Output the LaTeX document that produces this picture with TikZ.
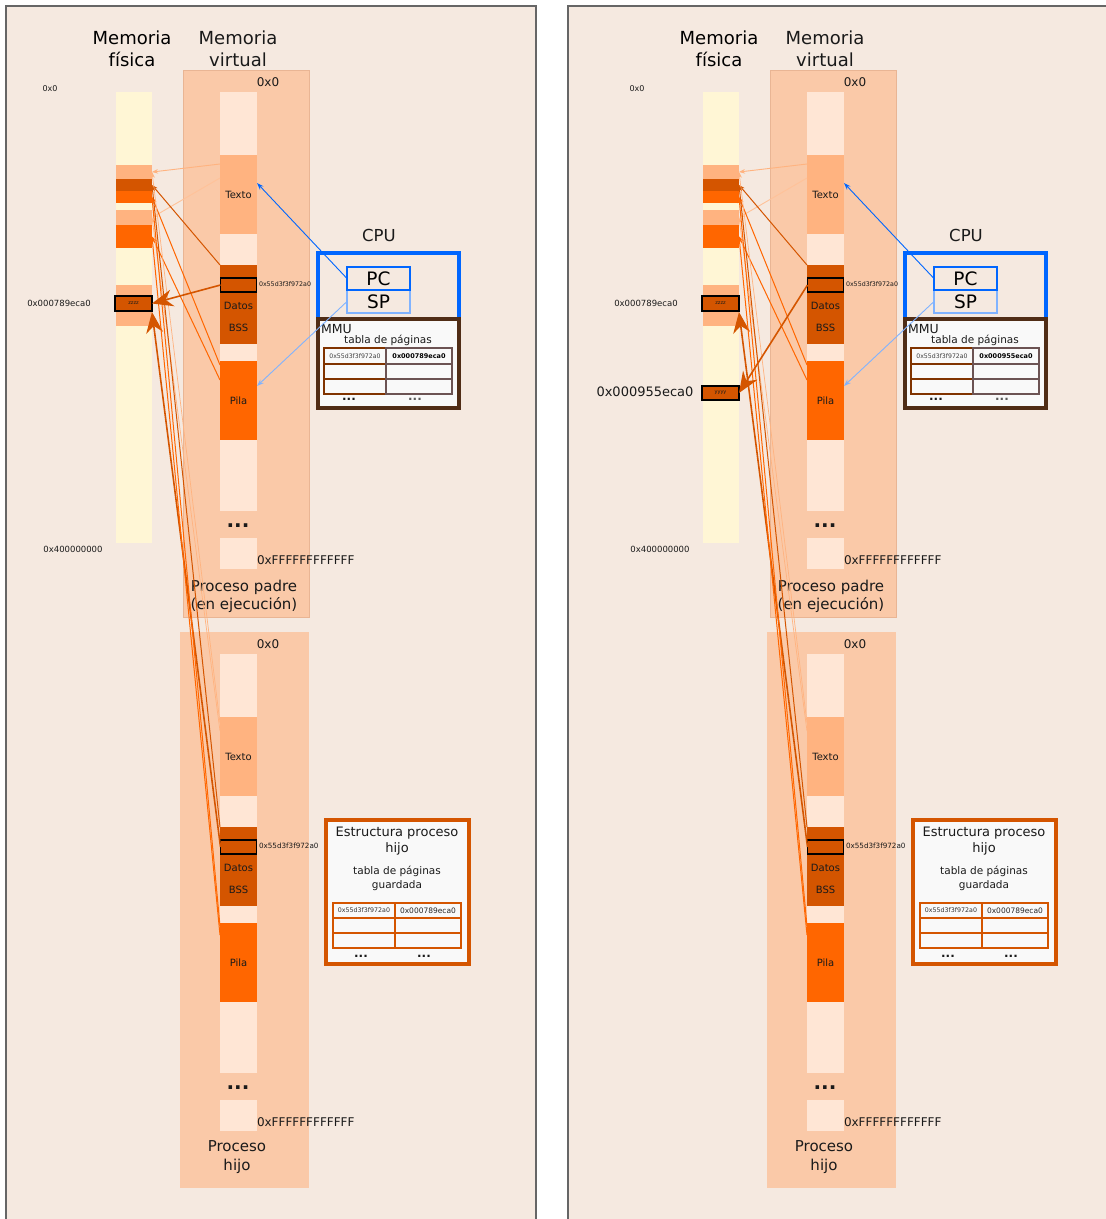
\documentclass[tikz,border=0pt]{standalone}
\usepackage{fontspec}
\setmainfont{DejaVu Sans}
\usetikzlibrary{arrows.meta,calc}
\definecolor{panelbg}{HTML}{F5E9E0}
\definecolor{frameg}{HTML}{666666}
\definecolor{lorange}{HTML}{FFB380}
\definecolor{dorange}{HTML}{D45500}
\definecolor{orangec}{HTML}{FF6600}
\definecolor{vlight}{HTML}{FFE6D5}
\definecolor{physY}{HTML}{FFF6D5}
\definecolor{procbg}{HTML}{FAC9A8}
\definecolor{procedge}{HTML}{E9B594}
\definecolor{cpublue}{HTML}{0066FF}
\definecolor{spblue}{HTML}{80B3FF}
\definecolor{mmubrown}{HTML}{502D16}
\definecolor{cellbrown}{HTML}{803300}
\definecolor{cellgray}{HTML}{6C5353}
\definecolor{boxfill}{HTML}{F9F9F9}
\definecolor{txt}{HTML}{1A1A1A}
\tikzset{
  blk/.style={rectangle, inner sep=0pt, outer sep=0pt, anchor=north west, fill=#1},
  seg/.style={blk=#1, minimum width=37pt, font=\fontsize{10}{12}\selectfont, text=txt},
  lbl/.style={inner sep=0pt, outer sep=0pt, text=txt},
  title/.style={lbl, align=center, font=\fontsize{18}{22}\selectfont},
  addr/.style={lbl, font=\fontsize{8.5}{10}\selectfont},
  membox/.style={blk=dorange, draw=black, line width=1.3pt, font=\fontsize{5}{6}\selectfont, text=txt},
  loarrow/.style={draw=lorange, line width=0.9pt, -{Stealth[length=6pt,width=4.5pt]}},
  doarrow/.style={draw=dorange, line width=1pt, -{Stealth[length=6pt,width=4.5pt]}},
  ooarrow/.style={draw=orangec, line width=1pt, -{Stealth[length=6pt,width=4.5pt]}},
  bigarrow/.style={draw=dorange, line width=1.6pt, -{Stealth[length=21pt,width=17pt,inset=7pt]}},
  pcarrow/.style={draw=cpublue, line width=0.9pt, -{Stealth[length=7pt,width=5pt]}},
  sparrow/.style={draw=spblue, line width=0.9pt, -{Stealth[length=7pt,width=5pt]}},
  cellL/.style={blk=boxfill, draw=cellbrown, line width=1.3pt},
  cellR/.style={blk=boxfill, draw=cellgray, line width=1.3pt},
  cellO/.style={blk=boxfill, draw=dorange, line width=1.3pt},
  dotsty/.style={lbl, anchor=base, font=\fontsize{12}{14}\selectfont\bfseries},
  regsty/.style={blk=none, line width=1.3pt, minimum width=63pt, minimum height=23pt, font=\fontsize{18.5}{19}\selectfont, text=black},
}
% virtual column: #1 prefix, #2 y shift, #3 font size of marker label
\newcommand\vcolumn[3]{%
\begin{scope}[shift={(0,#2)}]
  \node[seg=vlight, minimum height=63pt] (#1a) at (220,92) {};
  \node[seg=lorange, minimum height=79pt] (#1text) at (220,155) {Texto};
  \node[seg=vlight, minimum height=31pt] (#1b) at (220,234) {};
  \node[seg=dorange, minimum height=79pt] (#1dat) at (220,265) {};
  \node[lbl, font=\fontsize{10}{12}\selectfont] (#1datl) at (238.5,306) {Datos};
  \node[lbl, font=\fontsize{10}{12}\selectfont] (#1bssl) at (238.5,328) {BSS};
  \node[seg=vlight, minimum height=17pt] (#1c) at (220,344) {};
  \node[seg=orangec, minimum height=79pt] (#1pila) at (220,361) {Pila};
  \node[seg=vlight, minimum height=71pt] (#1d) at (220,440) {};
  \node[lbl, anchor=base, font=\fontsize{20}{22}\selectfont\bfseries] (#1dots) at (238,527) {...};
  \node[seg=vlight, minimum height=31pt] (#1e) at (220,538) {};
  \node[membox, minimum width=36pt, minimum height=14pt] (#1mark) at (220.5,278) {};
  \node[lbl, anchor=west, font=\fontsize{#3}{#3}\selectfont] (#1markl) at (259,284) {0x55d3f3f972a0};
  \node[lbl, font=\fontsize{12}{14}\selectfont] (#1zero) at (268,82) {0x0};
  \node[lbl, anchor=west, font=\fontsize{12}{14}\selectfont] (#1ffff) at (257,560) {0xFFFFFFFFFFFF};
\end{scope}}
% whole panel: #1 prefix, #2 MMU value, #3 x shift
\newcommand\mempanel[3]{%
\begin{scope}[shift={(#3,0)}]
  \node[title, text=black] (#1tphys) at (132,49) {Memoria\\física};
  \node[title] (#1tvirt) at (238,49) {Memoria\\virtual};
  \node[addr, font=\fontsize{8}{10}\selectfont] (#1a0) at (50,89) {0x0};
  \node[addr] (#1a4) at (73,549) {0x400000000};
  \node[addr] (#1a7) at (59,303) {0x000789eca0};
  % physical memory
  \node[blk=physY, minimum width=36pt, minimum height=451pt] (#1phys) at (116,92) {};
  \node[blk=lorange, minimum width=36pt, minimum height=14pt] (#1p1) at (116,165) {};
  \node[blk=dorange, minimum width=36pt, minimum height=12pt] (#1p2) at (116,179) {};
  \node[blk=orangec, minimum width=36pt, minimum height=12pt] (#1p3) at (116,191) {};
  \node[blk=lorange, minimum width=36pt, minimum height=15pt] (#1p4) at (116,210) {};
  \node[blk=orangec, minimum width=36pt, minimum height=23pt] (#1p5) at (116,225) {};
  \node[blk=lorange, minimum width=36pt, minimum height=41pt] (#1p6) at (116,285) {};
  \node[membox, minimum width=37pt, minimum height=15pt] (#1zz) at (115,296) {zzzz};
  % processes
  \node[blk=procbg, draw=procedge, line width=1pt, minimum width=126pt, minimum height=547pt] (#1Pproc) at (183,70) {};
  \node[blk=procbg, minimum width=129pt, minimum height=556pt] (#1Cproc) at (180,632) {};
  \vcolumn{#1P}{0}{6.3}
  \vcolumn{#1C}{562}{7.2}
  \node[lbl, align=center, font=\fontsize{15}{18}\selectfont] (#1Plab) at (244,596) {Proceso padre\\(en ejecución)};
  \node[lbl, align=center, font=\fontsize{15}{19}\selectfont] (#1Clab) at (237,1157) {Proceso\\hijo};
  % CPU
  \node[lbl, font=\fontsize{16.5}{18}\selectfont] (#1cpu) at (379,235) {CPU};
  \node[blk=none, draw=cpublue, line width=4pt, minimum width=141pt, minimum height=67pt] (#1cpubox) at (318,253) {};
  \node[blk=boxfill, draw=mmubrown, line width=4pt, minimum width=141pt, minimum height=89pt] (#1mmu) at (318,319) {};
  \node[regsty, draw=spblue] (#1sp) at (347,290) {SP};
  \node[regsty, draw=cpublue] (#1pc) at (347,267) {PC};
  \node[lbl, anchor=west, font=\fontsize{12.5}{14}\selectfont] (#1mmul) at (321,329) {MMU};
  \node[lbl, font=\fontsize{10.5}{12}\selectfont] (#1tabl) at (388,340) {tabla de páginas};
  \node[cellL, minimum width=62pt, minimum height=16pt, font=\fontsize{6.2}{7}\selectfont, text=black!75] (#1m11) at (324,348) {0x55d3f3f972a0};
  \node[cellR, minimum width=66pt, minimum height=16pt, font=\fontsize{6.5}{7}\selectfont\bfseries, text=black] (#1m12) at (386,348) {#2};
  \node[cellL, minimum width=62pt, minimum height=15pt] (#1m21) at (324,364) {};
  \node[cellR, minimum width=66pt, minimum height=15pt] (#1m22) at (386,364) {};
  \node[cellL, minimum width=62pt, minimum height=15pt] (#1m31) at (324,379) {};
  \node[cellR, minimum width=66pt, minimum height=15pt] (#1m32) at (386,379) {};
  \node[dotsty] (#1md1) at (349,400) {...};
  \node[dotsty, text=black!65] (#1md2) at (415,400) {...};
  % child process structure
  \node[blk=boxfill, draw=dorange, line width=4pt, minimum width=143pt, minimum height=144pt] (#1st) at (326,820) {};
  \node[lbl, align=center, font=\fontsize{13}{16}\selectfont] (#1stt) at (397,841) {Estructura proceso\\hijo};
  \node[lbl, align=center, font=\fontsize{10.5}{14}\selectfont] (#1sttp) at (397,878) {tabla de páginas\\guardada};
  \node[cellO, minimum width=62pt, minimum height=15pt, font=\fontsize{6.3}{7}\selectfont, text=black!80] (#1s11) at (333,903) {0x55d3f3f972a0};
  \node[cellO, minimum width=66pt, minimum height=15pt, font=\fontsize{7.5}{8}\selectfont, text=black!85] (#1s12) at (395,903) {0x000789eca0};
  \node[cellO, minimum width=62pt, minimum height=15pt] (#1s21) at (333,918) {};
  \node[cellO, minimum width=66pt, minimum height=15pt] (#1s22) at (395,918) {};
  \node[cellO, minimum width=62pt, minimum height=15pt] (#1s31) at (333,933) {};
  \node[cellO, minimum width=66pt, minimum height=15pt] (#1s32) at (395,933) {};
  \node[dotsty] (#1sd1) at (361,957) {...};
  \node[dotsty] (#1sd2) at (424,957) {...};
  % arrows parent
  \draw[loarrow] ([yshift=-9pt]#1Ptext.north west) -- (#1p1.east);
  \draw[loarrow, draw=lorange!80] ([yshift=-23pt]#1Ptext.north west) -- (#1p4.east);
  \draw[doarrow] (#1Pdat.north west) -- (#1p2.east);
  \draw[ooarrow] ([yshift=-4pt]#1Ppila.north west) -- (#1p3.east);
  \draw[ooarrow] ([yshift=-19pt]#1Ppila.north west) -- (#1p5.east);
  % arrows child
  \draw[loarrow, line width=0.7pt] ([yshift=-6pt]#1Ctext.north west) -- (#1p1.east);
  \draw[loarrow, line width=0.7pt] ([yshift=-14pt]#1Ctext.north west) -- (#1p4.east);
  \draw[doarrow] (#1Cdat.north west) -- (#1p2.east);
  \draw[bigarrow] (#1Cmark.west) -- ([yshift=-1pt]#1zz.south east);
  \draw[ooarrow] ([yshift=-3pt]#1Cpila.north west) -- (#1p3.east);
  \draw[ooarrow] ([yshift=-12pt]#1Cpila.north west) -- (#1p5.east);
  % CPU arrows
  \draw[pcarrow] (#1pc.west) -- ([yshift=-28pt]#1Ptext.north east);
  \draw[sparrow] (#1sp.west) -- ([yshift=-25pt]#1Ppila.north east);
\end{scope}}

\begin{document}
\begin{tikzpicture}[x=1pt,y=-1pt]
\useasboundingbox (0,0) rectangle (1106,1219);
\fill[white] (0,0) rectangle (1106,1219);
\node[blk=panelbg, draw=frameg, line width=1.3pt, minimum width=530pt, minimum height=1230pt] (Lframe) at (6,6) {};
\node[blk=panelbg, draw=frameg, line width=1.3pt, minimum width=550pt, minimum height=1230pt] (Rframe) at (568,6) {};
\mempanel{L}{0x000789eca0}{0}
\mempanel{R}{0x000955eca0}{587}
% specific arrows
\draw[bigarrow] (LPmark.west) -- (Lzz.east);
\node[membox, minimum width=37pt, minimum height=14pt] (Ryy) at (702,386) {yyyy};
\node[lbl, font=\fontsize{13}{15}\selectfont] (Ryyl) at (645,392) {0x000955eca0};
\draw[bigarrow] (RPmark.west) -- (Ryy.east);
\end{tikzpicture}
\end{document}
